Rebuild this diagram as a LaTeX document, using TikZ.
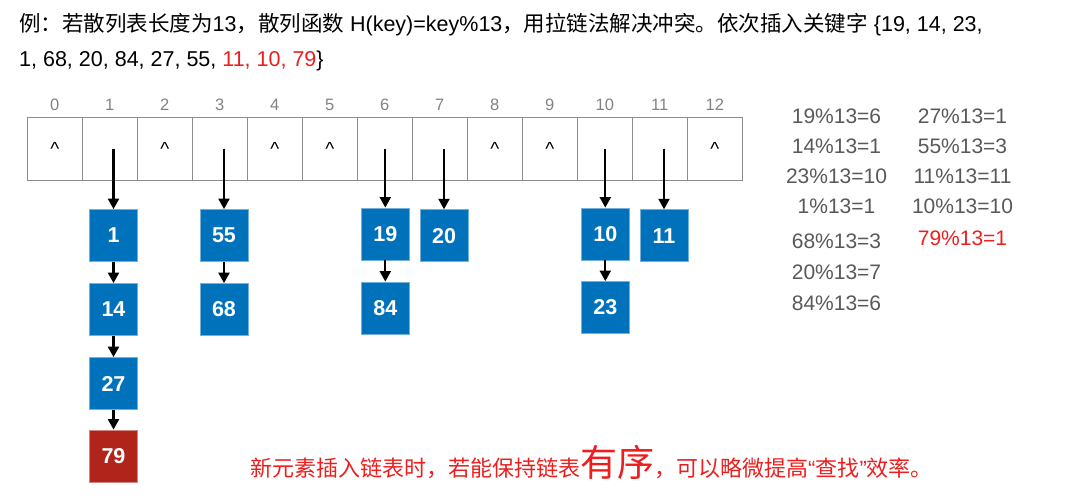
\documentclass[tikz,border=0pt]{standalone}
\usepackage{fontspec}
\setmainfont{Liberation Sans}
\newfontfamily\cjk{Noto Sans CJK SC}
\newfontfamily\lat{Liberation Sans}
\usetikzlibrary{arrows.meta}
\definecolor{nodeblue}{RGB}{0,114,188}
\definecolor{nodered}{RGB}{176,36,28}
\definecolor{txtred}{RGB}{236,30,30}
\definecolor{calcgray}{RGB}{89,89,89}
\definecolor{idxgray}{RGB}{130,130,130}
\newcommand\zhh[1]{{\cjk #1}}
\begin{document}
\begin{tikzpicture}[x=1pt,y=-1pt,
  cell/.style={draw=black!45, line width=0.8pt, minimum width=55pt, minimum height=62.7pt,
    inner sep=0pt, font=\fontsize{19}{19}\selectfont},
  idx/.style={text=idxgray, font=\fontsize{16.5}{16.5}\selectfont, inner sep=0pt},
  key/.style={fill=nodeblue, draw=nodeblue!55!white, line width=0.8pt, minimum width=48pt,
    minimum height=52pt, inner sep=0pt, text=white, font=\bfseries\fontsize{21.5}{21.5}\selectfont},
  newkey/.style={key, fill=nodered, draw=nodered!55!white},
  arr/.style={-{Triangle[width=11pt,length=10.5pt]}, line width=2.2pt, black},
  calc/.style={text=calcgray, font=\fontsize{21}{21}\selectfont, inner sep=0pt},
  head/.style={anchor=base west, inner sep=0pt, font=\fontsize{21.5}{21.5}\selectfont},
]
\useasboundingbox (0,0) rectangle (1066,502);

% header
\node[head] (head1) at (19,32) {\zhh{例：若散列表长度为}13\zhh{，散列函数} H(key)=key\%13\zhh{，用拉链法解决冲突。依次插入关键字} \{19, 14, 23,};
\node[head] (head2) at (19,67) {1, 68, 20, 84, 27, 55, \textcolor{txtred}{11, 10, 79}\}};

% table cells and indices
\foreach \i in {0,...,12} {
  \node[idx] (i\i) at ({54.8+55*\i},105) {\i};
}
\foreach \i in {0,2,4,5,8,9,12} {
  \node[cell] (c\i) at ({54.8+55*\i},148.7) {\textasciicircum};
}
\foreach \i in {1,3,6,7,10,11} {
  \node[cell] (c\i) at ({54.8+55*\i},148.7) {};
}

% key nodes
\node[key] (k1)  at (113.5,235.5) {1};
\node[key] (k14) at (113.5,309.5) {14};
\node[key] (k27) at (113.5,383.5) {27};
\node[newkey] (k79) at (113.5,456) {79};
\node[key] (k55) at (224,235.5) {55};
\node[key] (k68) at (224,309.5) {68};
\node[key] (k19) at (385.3,234) {19};
\node[key] (k84) at (385.3,308) {84};
\node[key] (k20) at (444,235.7) {20};
\node[key] (k10) at (605.3,234) {10};
\node[key] (k23) at (605.3,307.5) {23};
\node[key] (k11) at (664,235.7) {11};

% arrows from table
\draw[arr] (c1.center -| k1) -- (k1.north);
\draw[arr] (c3.center -| k55) -- (k55.north);
\draw[arr] (c6.center -| k19) -- (k19.north);
\draw[arr] (c7.center -| k20) -- (k20.north);
\draw[arr] (c10.center -| k10) -- (k10.north);
\draw[arr] (c11.center -| k11) -- (k11.north);
% chain arrows
\draw[arr] (k1.south) -- (k14.north);
\draw[arr] (k14.south) -- (k27.north);
\draw[arr] (k27.south) -- (k79.north);
\draw[arr] (k55.south) -- (k68.north);
\draw[arr] (k19.south) -- (k84.north);
\draw[arr] (k10.south) -- (k23.north);

% calculations
\node[calc] (r1) at (836.5,116.7) {19\%13=6};
\node[calc] (r2) at (836.5,146.7) {14\%13=1};
\node[calc] (r3) at (836.5,176.7) {23\%13=10};
\node[calc] (r4) at (836.5,206.7) {1\%13=1};
\node[calc] (r5) at (836.5,241.7) {68\%13=3};
\node[calc] (r6) at (836.5,272.7) {20\%13=7};
\node[calc] (r7) at (836.5,303.3) {84\%13=6};
\node[calc] (s1) at (962.5,116.7) {27\%13=1};
\node[calc] (s2) at (962.5,146.7) {55\%13=3};
\node[calc] (s3) at (962.5,176.7) {11\%13=11};
\node[calc] (s4) at (962.5,206.7) {10\%13=10};
\node[calc, text=txtred] (s5) at (962.5,238.3) {79\%13=1};

% note
\node[anchor=base west, inner sep=0pt, text=txtred, font=\cjk\fontsize{22}{22}\selectfont] (note) at (250,477)
  {新元素插入链表时，若能保持链表{\fontsize{37}{37}\selectfont 有序}，可以略微提高{\lat “}查找{\lat ”}效率。};
\end{tikzpicture}
\end{document}
